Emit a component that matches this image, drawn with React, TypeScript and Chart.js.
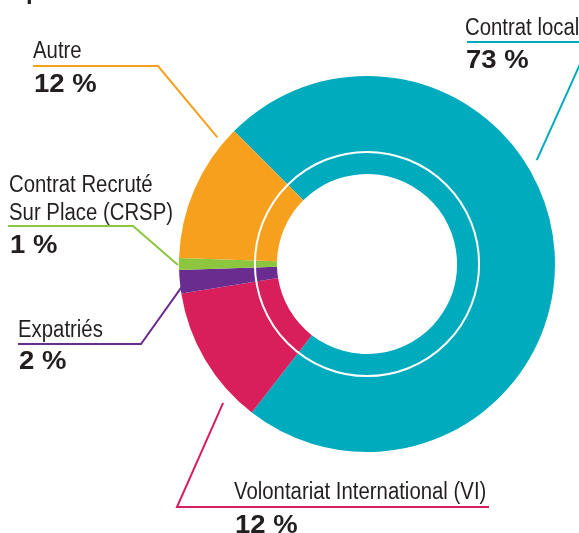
import React, { useEffect, useRef } from "react";
import { Chart, registerables } from "chart.js";

Chart.register(...registerables);

const categories = ["Contrat local", "Volontariat International (VI)", "Expatriés", "Contrat Recruté Sur Place (CRSP)", "Autre"];
const values = [73, 12, 2, 1, 12];
const pctLabels = ["73 %", "12 %", "2 %", "1 %", "12 %"];
const nameLines = [["Contrat local"], ["Volontariat International (VI)"], ["Expatriés"], ["Contrat Recruté", "Sur Place (CRSP)"], ["Autre"]];
const colors = ["#00ABBD", "#D81E5B", "#6A2C8E", "#8CC63F", "#F6A01D"];
const titleFragment = "p";

// label layout (canvas px): text x, first name baseline, pct baseline, underline y, underline x range, leader corner side
const labelX = [465, 234, 18, 9, 33];
const nameBase = [35, 499, 337, 192, 58];
const pctBase = [68, 533, 369, 253, 92];
const lineY = [42, 507, 344, 226, 66];
const lineX1 = [467, 177, 18, 8, 33];
const lineX2 = [590, 489, 141, 133, 158];
const cornerAtEnd = [true, false, true, true, true];
const leaderFrac = [0.394, 0.19, 0.35, 0.42, 0.89];
const leaderGap = [11, 12, -3, 1, 8];

const NAME_FONT = "23px 'Liberation Sans', Arial, sans-serif";
const NAME_SQUEEZE = 0.885;
const PCT_FONT = "bold 25px 'Liberation Sans', Arial, sans-serif";
const PCT_STRETCH = 1.1;
const TEXT = "#231F20";

const ringPlugin = {
  id: "innerRing",
  afterDatasetsDraw(chart: any) {
    const meta = chart.getDatasetMeta(0);
    const arc = meta.data[0];
    if (!arc) return;
    const { x, y, innerRadius, outerRadius } = arc.getProps(["x", "y", "innerRadius", "outerRadius"], true);
    const r = innerRadius + (outerRadius - innerRadius) * 0.225;
    const ctx = chart.ctx;
    ctx.save();
    ctx.strokeStyle = "#ffffff";
    ctx.lineWidth = 2;
    ctx.beginPath();
    ctx.arc(x, y, r, 0, Math.PI * 2);
    ctx.stroke();
    ctx.restore();
  },
};

const labelPlugin = {
  id: "extLabels",
  afterDraw(chart: any) {
    const meta = chart.getDatasetMeta(0);
    const ctx = chart.ctx;
    // cropped title fragment at the very top
    ctx.save();
    ctx.fillStyle = TEXT;
    ctx.font = "bold 24px 'Liberation Sans', Arial, sans-serif";
    ctx.textBaseline = "alphabetic";
    ctx.fillText(titleFragment, 26, -1);
    ctx.restore();

    meta.data.forEach((arc: any, i: number) => {
      const { x, y, startAngle, endAngle, outerRadius } = arc.getProps(["x", "y", "startAngle", "endAngle", "outerRadius"], true);
      const a = startAngle + (endAngle - startAngle) * leaderFrac[i];
      const r = outerRadius + leaderGap[i];
      const ex = x + r * Math.cos(a);
      const ey = y + r * Math.sin(a);
      ctx.save();
      ctx.strokeStyle = colors[i];
      ctx.lineWidth = 2;
      ctx.beginPath();
      if (cornerAtEnd[i]) {
        ctx.moveTo(lineX1[i], lineY[i]);
        ctx.lineTo(lineX2[i], lineY[i]);
      } else {
        ctx.moveTo(lineX2[i], lineY[i]);
        ctx.lineTo(lineX1[i], lineY[i]);
      }
      ctx.lineTo(ex, ey);
      ctx.stroke();
      ctx.restore();

      ctx.save();
      ctx.fillStyle = TEXT;
      ctx.textAlign = "left";
      ctx.textBaseline = "alphabetic";
      ctx.font = NAME_FONT;
      nameLines[i].forEach((ln, k) => {
        ctx.save();
        ctx.translate(labelX[i], nameBase[i] + k * 28);
        ctx.scale(NAME_SQUEEZE, 1);
        ctx.fillText(ln, 0, 0);
        ctx.restore();
      });
      ctx.font = PCT_FONT;
      ctx.translate(labelX[i] + 1, pctBase[i]);
      ctx.scale(PCT_STRETCH, 1);
      ctx.fillText(pctLabels[i], 0, 0);
      ctx.restore();
    });
  },
};

export default function App() {
  const ref = useRef<HTMLCanvasElement>(null);
  useEffect(() => {
    if (!ref.current) return;
    const chart = new Chart(ref.current, {
      type: "doughnut",
      data: {
        labels: categories,
        datasets: [
          {
            data: values,
            backgroundColor: colors,
            borderWidth: 0,
          },
        ],
      },
      options: {
        animation: false,
        responsive: false,
        rotation: -45,
        cutout: "47.9%",
        layout: { padding: { left: 179, right: 24, top: 76, bottom: 81 } },
        plugins: {
          legend: { display: false },
          tooltip: { enabled: false },
        },
      },
      plugins: [ringPlugin, labelPlugin],
    });
    return () => chart.destroy();
  }, []);
  return (
    <div style={{ position: "absolute", left: 0, top: 0, width: 579, height: 533, background: "#fff" }}>
      <canvas ref={ref} width={579} height={533} style={{ width: 579, height: 533, display: "block" }} />
    </div>
  );
}
